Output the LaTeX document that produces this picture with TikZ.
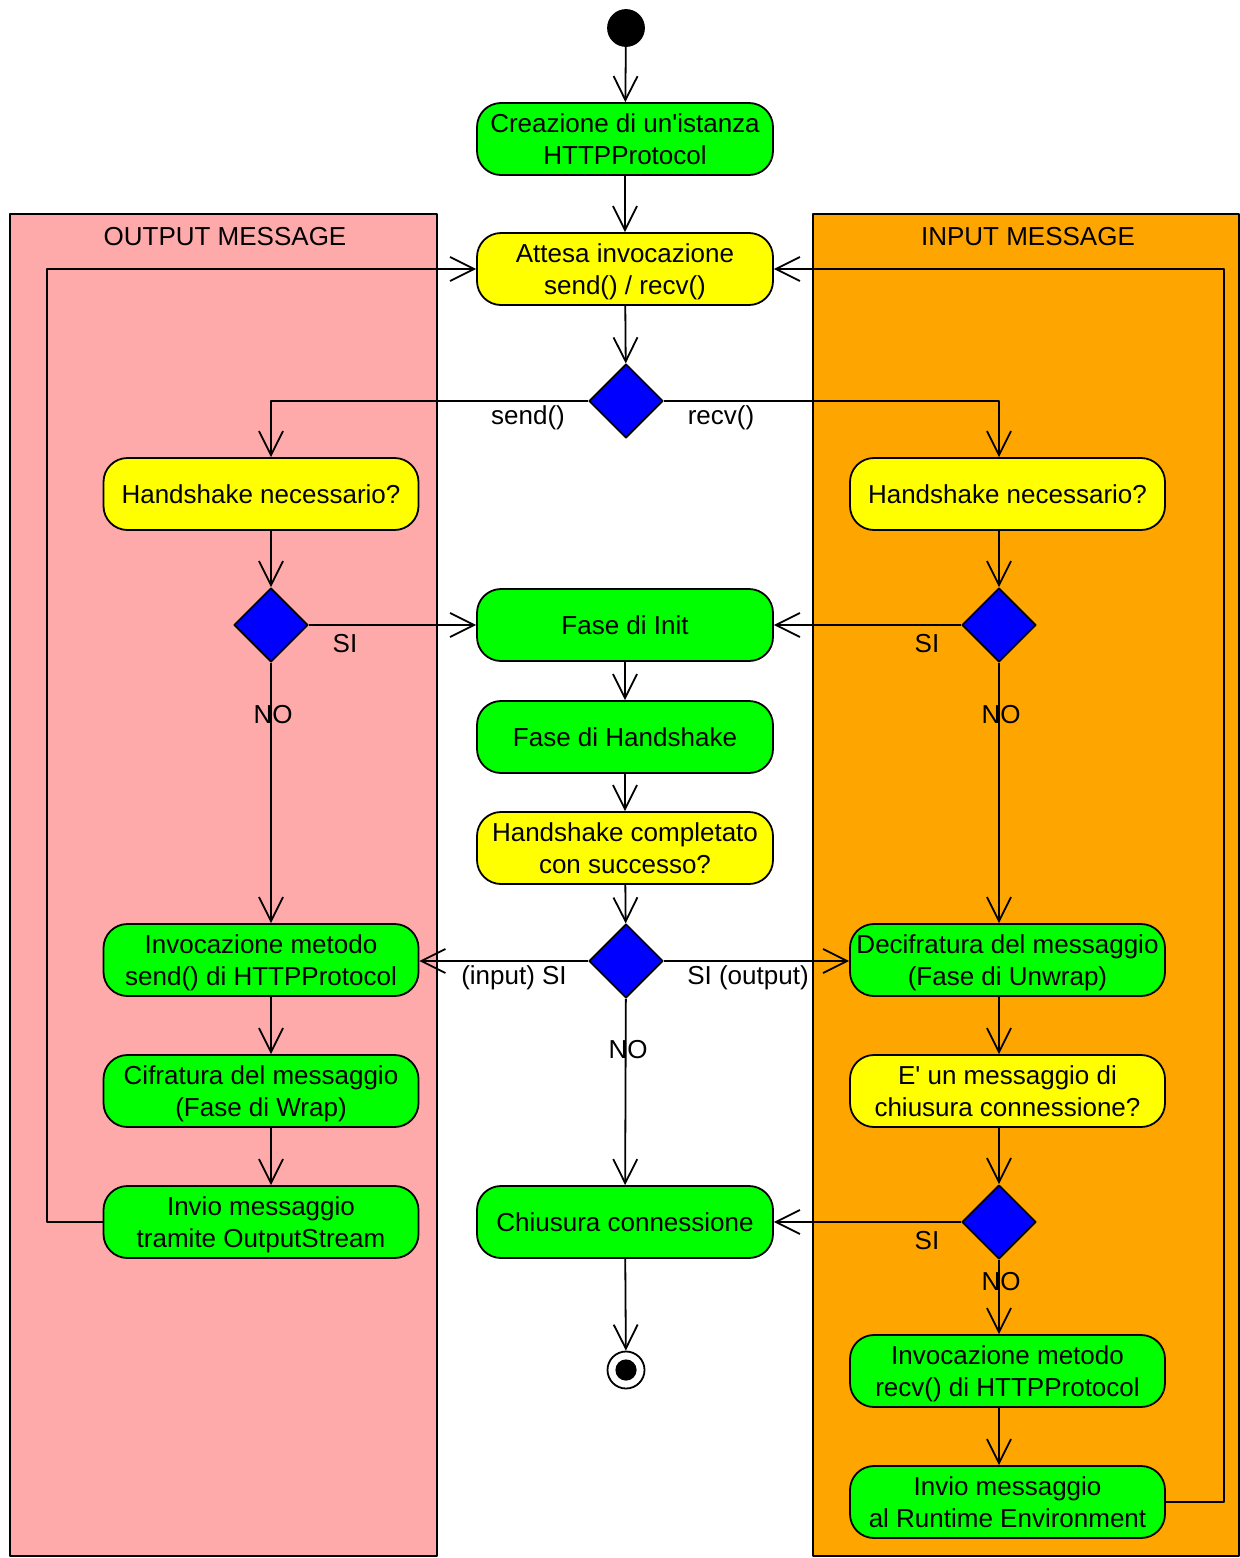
\documentclass[tikz,border=0pt]{standalone}
\usepackage{fontspec}
\setmainfont{Liberation Sans}
\usetikzlibrary{shapes.geometric,arrows.meta}
\definecolor{actgreen}{HTML}{00FF00}
\definecolor{actyellow}{HTML}{FFFF00}
\definecolor{decblue}{HTML}{0000FF}
\definecolor{lanepink}{HTML}{FFAAAA}
\definecolor{laneorange}{HTML}{FFA500}
\begin{document}
\begin{tikzpicture}[x=0.5pt,y=-0.5pt, line join=round, line width=0.9pt,
	>={Straight Barb[length=12pt,width=12pt]},
	every node/.style={font=\fontsize{13}{16}\selectfont},
	act/.style={draw,rounded corners=12pt,minimum width=148pt,minimum height=36pt,
		inner sep=0pt,align=center,fill=actgreen,text depth=-1pt},
	ask/.style={act,fill=actyellow},
	side/.style={minimum width=157.5pt},
	dec/.style={draw,diamond,aspect=1,minimum size=37pt,inner sep=0pt,fill=decblue},
	lane/.style={draw,line width=0.6pt}]
	\useasboundingbox (0,0) rectangle (1240,1558);
	% swimlanes
	\draw[lane,fill=lanepink] (10,214) rectangle (437,1556);
	\draw[lane,fill=laneorange] (813,214) rectangle (1239,1556);
	\node (tOut) at (225,237) {OUTPUT MESSAGE};
	\node (tIn) at (1028,237) {INPUT MESSAGE};
	\path
	(271,0) coordinate (colL)
	(999,0) coordinate (colR)
	;
	% central column
	\node[draw,circle,fill=black,minimum size=18pt,inner sep=0pt] (start) at (626,28) {};
	\node[act] (creaz) at (625,139) {Creazione di un\textquotesingle istanza\\HTTPProtocol};
	\node[ask] (attesa) at (625,269) {Attesa invocazione\\send() / recv()};
	\node[dec] (dSR) at (626,401) {};
	\node[act] (init) at (625,625) {Fase di Init};
	\node[act] (fhs) at (625,737) {Fase di Handshake};
	\node[ask] (hsok) at (625,848) {Handshake completato\\con successo?};
	\node[dec] (dOk) at (626,961) {};
	\node[act] (chius) at (625,1222) {Chiusura connessione};
	\node[draw,circle,minimum size=18.5pt,inner sep=0pt] (stop) at (626,1370) {};
	\fill (stop) circle (5.3pt);
	% output lane
	\node[ask,side] (hsL) at (261,494) {Handshake necessario?};
	\node[dec] (dL) at (271,625) {};
	\node[act,side] (sendL) at (261,960) {Invocazione metodo\\send() di HTTPProtocol};
	\node[act,side] (wrap) at (261,1091) {Cifratura del messaggio\\(Fase di Wrap)};
	\node[act,side] (outS) at (261,1222) {Invio messaggio\\tramite OutputStream};
	% input lane
	\node[ask,side] (hsR) at (1007.5,494) {Handshake necessario?};
	\node[dec] (dR) at (999,625) {};
	\node[act,side] (unwrap) at (1007.5,960) {Decifratura del messaggio\\(Fase di Unwrap)};
	\node[ask,side] (close) at (1007.5,1091) {E\textquotesingle{} un messaggio di\\chiusura connessione?};
	\node[dec] (dC) at (999,1222) {};
	\node[act,side] (recvR) at (1007.5,1371) {Invocazione metodo\\recv() di HTTPProtocol};
	\node[act,side] (toRT) at (1007.5,1502) {Invio messaggio\\al Runtime Environment};
	% connectors
	\draw[->] (start)--(creaz);
	\draw[->] (creaz)--(attesa);
	\draw[->] (attesa)--(dSR);
	\draw[->] (dSR.west) -| (colL |- hsL.north);
	\draw[->] (dSR.east) -| (colR |- hsR.north);
	\draw[->] (colL |- hsL.south)--(dL);
	\draw[->] (colR |- hsR.south)--(dR);
	\draw[->] (dL)--(init);
	\draw[->] (dR)--(init);
	\draw[->] (dL)--(colL |- sendL.north);
	\draw[->] (dR)--(colR |- unwrap.north);
	\draw[->] (init)--(fhs);
	\draw[->] (fhs)--(hsok);
	\draw[->] (hsok)--(dOk);
	\draw[->] (dOk)--(dOk -| sendL.east);
	\draw[->] (dOk)--(dOk -| unwrap.west);
	\draw[->] (dOk)--(chius);
	\draw[->] (colL |- sendL.south)--(colL |- wrap.north);
	\draw[->] (colL |- wrap.south)--(colL |- outS.north);
	\draw[->] (outS.west)--++(-56,0) |- (attesa.west);
	\draw[->] (colR |- unwrap.south)--(colR |- close.north);
	\draw[->] (colR |- close.south)--(dC);
	\draw[->] (dC)--(chius);
	\draw[->] (dC)--(colR |- recvR.north);
	\draw[->] (colR |- recvR.south)--(colR |- toRT.north);
	\draw[->] (toRT.east)--++(58,0) |- (attesa.east);
	\draw[->] (chius)--(stop);
	% labels
	\foreach \n/\t/\x/\y in {lSend/send()/528/418, lRecv/recv()/721/418,
		lSiL/SI/345/644, lNoL/NO/273/715, lSiR/SI/927/644, lNoR/NO/1001/715,
		lIn/(input) SI/514/978, lOut/SI (output)/748/978, lNoOk/NO/628/1050,
		lSiC/SI/927/1241, lNoC/NO/1001/1282}
		\node[inner sep=0pt] (\n) at (\x,\y) {\t};
\end{tikzpicture}
\end{document}
